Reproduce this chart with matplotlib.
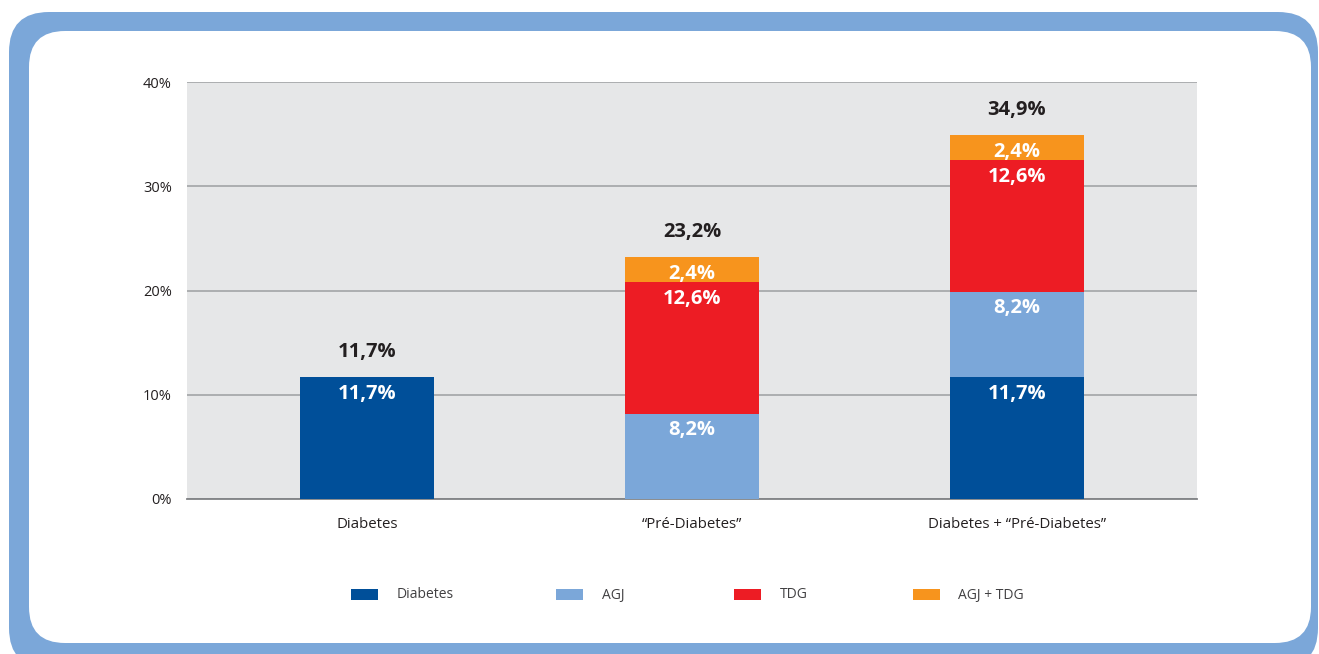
import matplotlib
matplotlib.use("Agg")
import matplotlib.pyplot as plt
from matplotlib.patches import FancyBboxPatch, Rectangle
import numpy as np

plt.rcParams['font.family'] = ['Open Sans', 'DejaVu Sans']

categories = ["Diabetes", "\u201cPr\u00e9-Diabetes\u201d", "Diabetes + \u201cPr\u00e9-Diabetes\u201d"]
series_names = ["Diabetes", "AGJ", "TDG", "AGJ + TDG"]
diabetes = [11.7, 0.0, 11.7]
agj = [0.0, 8.2, 8.2]
tdg = [0.0, 12.6, 12.6]
agj_tdg = [0.0, 2.4, 2.4]
totals = [11.7, 23.2, 34.9]
yticks = [0, 10, 20, 30, 40]
colors = ["#004f99", "#7ba7d9", "#ed1c24", "#f7941d"]

W, H = 1319, 654
fig = plt.figure(figsize=(W / 100, H / 100), dpi=100)
fig.patch.set_facecolor("white")

# frame
def px_box(x0, y0, x1, y1, r, color):
    return FancyBboxPatch((x0 / 100, (H - y1) / 100), (x1 - x0) / 100, (y1 - y0) / 100,
                          boxstyle=f"round,pad=0,rounding_size={r}",
                          transform=fig.dpi_scale_trans, facecolor=color,
                          edgecolor="none", zorder=0)
fig.add_artist(px_box(9, 12, 1318, 668, 0.40, "#7ba7d9"))
fig.add_artist(px_box(29, 31, 1311, 643, 0.36, "white"))

ax = fig.add_axes([187 / W, (H - 499) / H, (1197 - 187) / W, (499 - 82) / H])
ax.set_facecolor("#e6e7e8")
x = np.arange(len(categories))
width = 0.41
series = [diabetes, agj, tdg, agj_tdg]
bottom = np.zeros(len(categories))
for vals, col in zip(series, colors):
    vals = np.array(vals)
    ax.bar(x, vals, width, bottom=bottom, color=col, zorder=3, linewidth=0)
    for xi, v, b in zip(x, vals, bottom):
        if v > 0:
            ax.annotate(f"{v:.1f}%".replace(".", ","), (xi, b + v), xytext=(0, -12),
                        textcoords="offset points", ha="center", va="center",
                        color="white", fontsize=14.5, fontweight="bold", zorder=4)
    bottom = bottom + vals

for xi, t in zip(x, totals):
    ax.annotate(f"{t:.1f}%".replace(".", ","), (xi, t), xytext=(0, 18),
                textcoords="offset points", ha="center", va="center",
                color="#231f20", fontsize=14.5, fontweight="bold", zorder=4)

ax.set_xlim(-0.554, 2.554)
ax.set_ylim(0, 40)
ax.set_yticks(yticks)
ax.set_yticklabels([f"{t}%" for t in yticks])
ax.set_xticks(x)
ax.set_xticklabels(categories)
ax.tick_params(axis="both", length=0, colors="#231f20")
ax.tick_params(axis="y", pad=11, labelsize=10.5)
ax.tick_params(axis="x", pad=13, labelsize=10.8)
ax.yaxis.grid(True, color="#a7a9ac", linewidth=1.3, zorder=1)
ax.set_axisbelow(True)
for s in ["top", "right", "left"]:
    ax.spines[s].set_visible(False)
ax.spines["bottom"].set_color("#808285")
ax.spines["bottom"].set_linewidth(1.3)

# legend
leg_x = [351, 556, 734, 913]
text_x = [397, 602, 780, 958]
for lx, tx, name, col in zip(leg_x, text_x, series_names, colors):
    fig.add_artist(Rectangle((lx / W, (H - 600) / H), 27 / W, 11 / H,
                             transform=fig.transFigure, facecolor=col, edgecolor="none"))
    fig.text(tx / W, (H - 595) / H, name, ha="left", va="center",
             fontsize=10, color="#414042")

fig.savefig("out.png", dpi=100)
